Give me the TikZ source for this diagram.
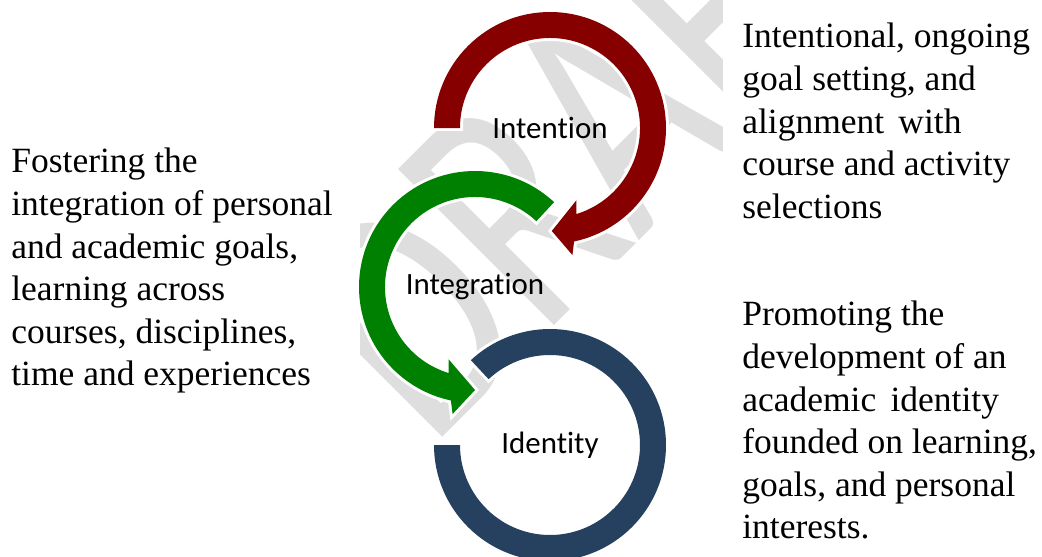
\documentclass[tikz,border=0pt]{standalone}
\usepackage{fontspec}
\setmainfont{Liberation Serif}
\newfontfamily\labelfont{Carlito}[Ligatures=NoCommon]
\definecolor{intentred}{RGB}{134,0,0}
\definecolor{integgreen}{RGB}{0,128,0}
\definecolor{identblue}{RGB}{38,64,96}
\definecolor{draftgray}{RGB}{222,222,222}
\tikzset{
  stage/.style = {inner sep=0pt, font=\labelfont\fontsize{17.6}{20}\selectfont},
  blurb/.style = {align=left, anchor=north west, inner sep=0pt, font=\fontsize{20.2}{24.2}\selectfont},
  ringarrow/.style = {fill=#1, preaction={draw=white, line width=3.4pt}},
  draftmark/.style = {draftgray, inner sep=0pt, anchor=base west, rotate=45, yscale=1.35,
                      font=\labelfont\fontsize{145}{145}\selectfont},
}

\begin{document}
\begin{tikzpicture}[x=0.02cm, y=0.02cm]
\useasboundingbox (0,0) rectangle (1042,556);

% watermark, only between the two text columns
\begin{scope}
  \clip (360,0) rectangle (722,556);
  \node [draftmark] (draft) at (430,106) {DRAFT};
\end{scope}

\node [stage] (intention) at (550,428) {Intention};
\node [stage] (integration) at (475,269) {Integration};
\node [stage] (identity) at (550,111) {Identity};

% the three loops
\fill [ringarrow=identblue, shift={(identity.center)}]
  (180:116) arc [start angle=180, end angle=493, radius=116] -- (133:90)
  arc [start angle=133, end angle=-180, radius=90] -- cycle;
\fill [ringarrow=integgreen, shift={(integration.center)}]
  (47:116) arc [start angle=47, end angle=258, radius=116] -- (260:129) -- (270:103)
  -- (250:77) -- (253:90) arc [start angle=253, end angle=47, radius=90] -- cycle;
\fill [ringarrow=intentred, shift={(intention.center)}]
  (180:116) arc [start angle=180, end angle=-78, radius=116] -- (-80:129) -- (-89:103)
  -- (-70:77) -- (-73:90) arc [start angle=-73, end angle=180, radius=90] -- cycle;

\node [blurb] (fostering) at (11,408)
  {Fostering the\\integration of personal\\and academic goals,\\learning across\\courses, disciplines,\\time and experiences};
\node [blurb] (intentional) at (742,533)
  {Intentional, ongoing\\goal setting, and\\alignment\hspace{0.4em}with\\course and activity\\selections};
\node [blurb] (promoting) at (742,255)
  {Promoting the\\development of an\\academic\hspace{0.4em}identity\\founded on learning,\\goals, and personal\\interests.};
\end{tikzpicture}
\end{document}
